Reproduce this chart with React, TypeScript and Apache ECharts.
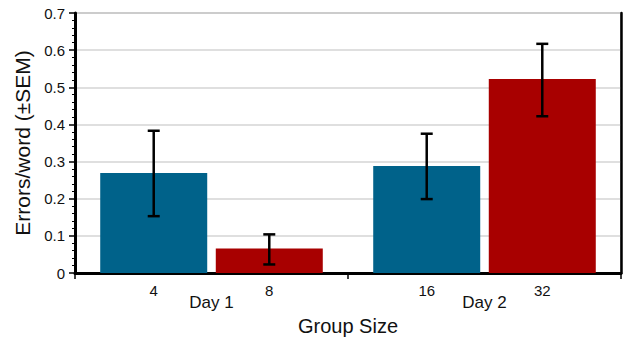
import React, { useEffect, useRef } from "react";
import * as echarts from "echarts";

const days = ["Day 1", "Day 2"];
const groupSizesA = ["4", "16"];
const groupSizesB = ["8", "32"];
const meansA = [0.269, 0.288];
const meansB = [0.066, 0.522];
const lowA = [0.153, 0.199];
const highA = [0.383, 0.375];
const lowB = [0.023, 0.422];
const highB = [0.104, 0.617];
const yTicks = [0, 0.1, 0.2, 0.3, 0.4, 0.5, 0.6, 0.7];

const BLUE = "#00628a";
const RED = "#a80000";
const BAR_WIDTH = 107;
const BAR_GAP = 0.08;
const FONT = "Liberation Sans, Arial, sans-serif";

export default function App() {
  const ref = useRef<HTMLDivElement>(null);
  useEffect(() => {
    if (!ref.current) return;
    const chart = echarts.init(ref.current, null, { renderer: "svg" });
    const offset = (BAR_WIDTH * (1 + BAR_GAP)) / 2;
    const errRender = (sign: number) => (params: any, api: any) => {
      const cat = api.value(0);
      const lo = api.coord([cat, api.value(1)]);
      const hi = api.coord([cat, api.value(2)]);
      const x = lo[0] + sign * offset;
      const cap = 6;
      const style = { stroke: "#000", lineWidth: 2.5 };
      return {
        type: "group",
        children: [
          { type: "line", shape: { x1: x, y1: lo[1], x2: x, y2: hi[1] }, style },
          { type: "line", shape: { x1: x - cap, y1: hi[1], x2: x + cap, y2: hi[1] }, style },
          { type: "line", shape: { x1: x - cap, y1: lo[1], x2: x + cap, y2: lo[1] }, style },
        ],
      };
    };
    const barLabel = (sizes: string[]) => ({
      show: true,
      position: "bottom",
      distance: 10,
      color: "#111",
      fontSize: 15,
      fontFamily: FONT,
      formatter: (p: any) => sizes[p.dataIndex],
    });
    chart.setOption({
      animation: false,
      textStyle: { fontFamily: FONT },
      grid: {
        left: 75,
        right: 2,
        top: 13,
        bottom: 64,
        show: true,
        borderColor: "#999",
        borderWidth: 1.5,
        outerBoundsMode: "none",
        containLabel: false,
      },
      xAxis: {
        type: "category",
        data: days,
        name: "Group Size",
        nameLocation: "middle",
        nameGap: 39,
        nameTextStyle: { fontSize: 20, color: "#111", fontFamily: FONT },
        axisLine: { lineStyle: { color: "#000", width: 3 } },
        axisTick: { show: true, interval: 0, length: 6, lineStyle: { color: "#000", width: 1.5 } },
        axisLabel: { margin: 21, fontSize: 17, color: "#111", fontFamily: FONT },
      },
      yAxis: [
        {
          type: "value",
          min: 0,
          max: 0.7,
          interval: 0.1,
          name: "Errors/word (±SEM)",
          nameLocation: "middle",
          nameGap: 41,
          nameTextStyle: { fontSize: 21, color: "#111", fontFamily: FONT },
          axisLine: { show: true, lineStyle: { color: "#000", width: 3 } },
          axisTick: { show: true, length: 6, lineStyle: { color: "#000", width: 1.5 } },
          minorTick: { show: true, splitNumber: 5, length: 3, lineStyle: { color: "#000", width: 1 } },
          splitLine: { show: true, lineStyle: { color: "#d4d4d4", width: 1.5 } },
          axisLabel: {
            margin: 10,
            fontSize: 15,
            color: "#111",
            fontFamily: FONT,
            formatter: (v: number) => {
              const t = yTicks.find((y) => Math.abs(y - v) < 1e-9);
              return t === undefined ? "" : String(t);
            },
          },
        },
        {
          type: "value",
          position: "right",
          min: 0,
          max: 0.7,
          interval: 0.1,
          axisLine: { show: true, lineStyle: { color: "#000", width: 2.5 } },
          axisTick: { show: false },
          axisLabel: { show: false },
          splitLine: { show: false },
        },
      ],
      series: [
        {
          type: "bar",
          data: meansA,
          barWidth: BAR_WIDTH,
          barGap: BAR_GAP * 100 + "%",
          itemStyle: { color: BLUE },
          label: barLabel(groupSizesA),
          z: 2,
        },
        {
          type: "bar",
          data: meansB,
          barWidth: BAR_WIDTH,
          barGap: BAR_GAP * 100 + "%",
          itemStyle: { color: RED },
          label: barLabel(groupSizesB),
          z: 2,
        },
        {
          type: "custom",
          renderItem: errRender(-1),
          data: days.map((_, i) => [i, lowA[i], highA[i]]),
          z: 5,
        },
        {
          type: "custom",
          renderItem: errRender(1),
          data: days.map((_, i) => [i, lowB[i], highB[i]]),
          z: 5,
        },
      ],
    });
    return () => chart.dispose();
  }, []);
  return (
    <div
      ref={ref}
      style={{ position: "fixed", left: 0, top: 0, width: 623, height: 337, background: "#fff" }}
    />
  );
}
